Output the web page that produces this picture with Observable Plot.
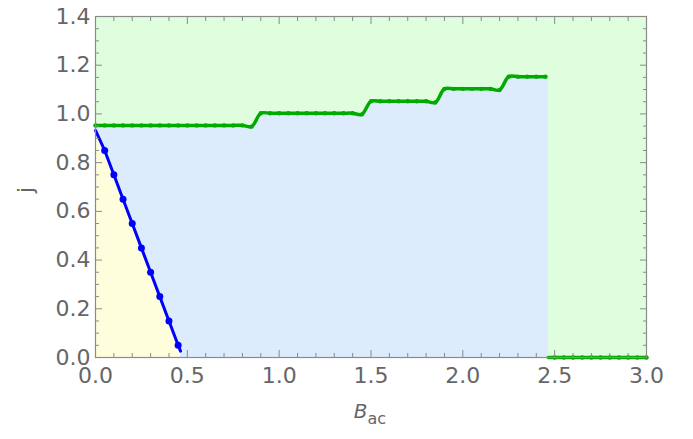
<!DOCTYPE html>
<html><head><meta charset="utf-8">
<script src="https://cdn.jsdelivr.net/npm/d3@7"></script>
<script src="https://cdn.jsdelivr.net/npm/@observablehq/plot@0.6"></script>
<style>body{margin:0;background:#fff;font-family:"DejaVu Sans",sans-serif;}</style>
</head><body><div id="chart"></div>
<script>
// Blue boundary (dots)
const blueB = [0.05, 0.10, 0.15, 0.20, 0.25, 0.30, 0.35, 0.40, 0.45];
const blueJ = [0.85, 0.75, 0.65, 0.55, 0.45, 0.35, 0.25, 0.15, 0.05];
// Blue boundary line (with its end points)
const blueLineB = [0, 0.05, 0.10, 0.15, 0.20, 0.25, 0.30, 0.35, 0.40, 0.45, 0.463];
const blueLineJ = [0.932, 0.85, 0.75, 0.65, 0.55, 0.45, 0.35, 0.25, 0.15, 0.05, 0.026];

// Upper green boundary
const greenB = [0, 0.05, 0.10, 0.15, 0.20, 0.25, 0.30, 0.35, 0.40, 0.45, 0.50, 0.55, 0.60, 0.65, 0.70, 0.75, 0.80,
  0.85, 0.90, 0.95, 1.00, 1.05, 1.10, 1.15, 1.20, 1.25, 1.30, 1.35, 1.40,
  1.45, 1.50, 1.55, 1.60, 1.65, 1.70, 1.75, 1.80,
  1.85, 1.90, 1.95, 2.00, 2.05, 2.10, 2.15,
  2.20, 2.25, 2.30, 2.35, 2.40, 2.45];
const greenJ = [0.953, 0.953, 0.953, 0.953, 0.953, 0.953, 0.953, 0.953, 0.953, 0.953, 0.953, 0.953, 0.953, 0.953, 0.953, 0.953, 0.953,
  0.948, 1.003, 1.003, 1.003, 1.003, 1.003, 1.003, 1.003, 1.003, 1.003, 1.003, 1.003,
  0.998, 1.052, 1.052, 1.052, 1.052, 1.052, 1.052, 1.052,
  1.047, 1.103, 1.103, 1.103, 1.103, 1.103, 1.103,
  1.098, 1.153, 1.153, 1.153, 1.153, 1.153];
// Edge of the middle (blue) region
const regionEndB = 2.465;
const regionEndJ = 1.153;

// Lower green boundary (j = 0)
const zeroB = [2.50, 2.55, 2.60, 2.65, 2.70, 2.75, 2.80, 2.85, 2.90, 2.95, 3.00];
const zeroJ = [0, 0, 0, 0, 0, 0, 0, 0, 0, 0, 0];
const zeroLineB = [2.465, 3.0];
const zeroLineJ = [0, 0];

// Ticks
const xMajor = [0, 0.5, 1.0, 1.5, 2.0, 2.5, 3.0];
const xMinor = [0.1,0.2,0.3,0.4,0.6,0.7,0.8,0.9,1.1,1.2,1.3,1.4,1.6,1.7,1.8,1.9,2.1,2.2,2.3,2.4,2.6,2.7,2.8,2.9];
const yMajor = [0, 0.2, 0.4, 0.6, 0.8, 1.0, 1.2, 1.4];
const yMinor = [0.05,0.1,0.15,0.25,0.3,0.35,0.45,0.5,0.55,0.65,0.7,0.75,0.85,0.9,0.95,1.05,1.1,1.15,1.25,1.3,1.35];

const xLabel = "B", xLabelSub = "ac", yLabel = "j";

const zip = (xs, ys) => xs.map((x, i) => ({B: x, j: ys[i]}));
const blueDots = zip(blueB, blueJ);
const blueLine = zip(blueLineB, blueLineJ);
const green = zip(greenB, greenJ);
const greenArea = [...green, {B: regionEndB, j: regionEndJ}];
const zeroDots = zip(zeroB, zeroJ);
const zeroLine = zip(zeroLineB, zeroLineJ);

const fillGreen = "#defede", fillBlue = "#dcecfd", fillYellow = "#fefedc";
const cGreen = "#00aa00", cBlue = "#0000ff", cAxis = "#8a8a8a", cText = "#666666";
const fs = 22;

const tickAxis = (fn, anchor, vals, size) => fn(vals, {anchor, tickSize: -size, tickFormat: () => "", stroke: cAxis, label: null});

const plot = Plot.plot({
  width: 693, height: 439,
  marginLeft: 95, marginRight: 47, marginTop: 16, marginBottom: 82,
  x: {domain: [0, 3]},
  y: {domain: [0, 1.4]},
  style: {fontFamily: "DejaVu Sans", background: "white"},
  marks: [
    Plot.frame({fill: fillGreen, stroke: null}),
    Plot.areaY(greenArea, {x: "B", y: "j", fill: fillBlue, curve: "catmull-rom"}),
    Plot.areaY(blueLine, {x: "B", y: "j", fill: fillYellow}),
    Plot.line(green, {x: "B", y: "j", stroke: cGreen, strokeWidth: 3.5, curve: "catmull-rom"}),
    Plot.dot(green, {x: "B", y: "j", fill: cGreen, r: 2.2}),
    Plot.line(zeroLine, {x: "B", y: "j", stroke: cGreen, strokeWidth: 3.5}),
    Plot.dot(zeroDots, {x: "B", y: "j", fill: cGreen, r: 2.2}),
    Plot.line(blueLine, {x: "B", y: "j", stroke: cBlue, strokeWidth: 3}),
    Plot.dot(blueDots, {x: "B", y: "j", fill: cBlue, r: 3.5}),
    tickAxis(Plot.axisX, "bottom", xMajor, 7),
    tickAxis(Plot.axisX, "bottom", xMinor, 4),
    tickAxis(Plot.axisX, "top", xMajor, 7),
    tickAxis(Plot.axisX, "top", xMinor, 4),
    tickAxis(Plot.axisY, "left", yMajor, 7),
    tickAxis(Plot.axisY, "left", yMinor, 4),
    tickAxis(Plot.axisY, "right", yMajor, 7),
    tickAxis(Plot.axisY, "right", yMinor, 4),
    Plot.axisX(xMajor, {anchor: "bottom", tickSize: 0, tickPadding: 10, fontSize: fs, fill: cText, tickFormat: d => d.toFixed(1), label: null}),
    Plot.axisY(yMajor, {anchor: "left", tickSize: 0, tickPadding: 5, fontSize: fs, fill: cText, tickFormat: d => d.toFixed(1), label: null}),
    Plot.frame({stroke: cAxis, strokeWidth: 1.2})
  ]
});
document.getElementById("chart").appendChild(plot);

const svg = d3.select(plot);
svg.append("text")
  .attr("transform", "translate(33,190) rotate(-90)")
  .attr("text-anchor", "middle")
  .attr("fill", cText).attr("font-size", fs).attr("font-family", "DejaVu Sans")
  .text(yLabel);
const xl = svg.append("text")
  .attr("x", 370).attr("y", 418)
  .attr("text-anchor", "middle")
  .attr("fill", cText).attr("font-family", "DejaVu Sans");
xl.append("tspan").attr("font-size", 20).attr("font-style", "italic").text(xLabel);
xl.append("tspan").attr("font-size", 16).attr("dy", 6).text(xLabelSub);
</script>
</body></html>
